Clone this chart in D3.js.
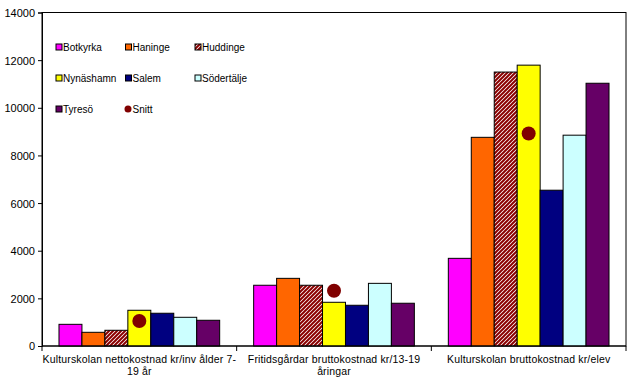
<!DOCTYPE html>
<html><head><meta charset="utf-8">
<script src="https://cdn.jsdelivr.net/npm/d3@7"></script>
<style>body{margin:0;background:#fff}svg{display:block}text{font-family:"Liberation Sans",Arial,sans-serif;font-size:10px;fill:#000}</style>
</head><body><svg id="c" width="634" height="390"></svg>
<script>
const categories = [["Kulturskolan nettokostnad kr/inv ålder 7-","19 år"],["Fritidsgårdar bruttokostnad kr/13-19","åringar"],["Kulturskolan bruttokostnad kr/elev"]];
const seriesNames = ["Botkyrka","Haninge","Huddinge","Nynäshamn","Salem","Södertälje","Tyresö"];
const botkyrka = [910, 2550, 3680];
const haninge = [575, 2840, 8760];
const huddinge = [660, 2550, 11500];
const nynashamn = [1500, 1835, 11790];
const salem = [1375, 1710, 6540];
const sodertalje = [1205, 2630, 8850];
const tyreso = [1080, 1795, 11030];
const snitt = [1050, 2320, 8920];
const yTicks = [0,2000,4000,6000,8000,10000,12000,14000];
const values = [botkyrka,haninge,huddinge,nynashamn,salem,sodertalje,tyreso];
const colors = ["#FF00FF","#FF6600","url(#hatch)","#FFFF00","#000080","#CCFFFF","#660066"];

const svg = d3.select("#c");
const defs = svg.append("defs");
const pat = defs.append("pattern").attr("id","hatch").attr("patternUnits","userSpaceOnUse").attr("width",4).attr("height",4);
pat.append("rect").attr("width",4).attr("height",4).attr("fill","#fff");
pat.append("path").attr("d","M-1,1 l2,-2 M0,4 l4,-4 M3,5 l2,-2").attr("stroke","#8B0000").attr("stroke-width",2);

const L=42, R=626, T=12.5, B=346;
const x0 = d3.scaleBand().domain(d3.range(categories.length)).range([L,R]).paddingInner(0).paddingOuter(0);
const x1 = d3.scaleBand().domain(d3.range(seriesNames.length)).range([0,x0.bandwidth()]).paddingInner(0).paddingOuter(0.74);
const y = d3.scaleLinear().domain([0,14000]).range([B,T]);

// plot border
svg.append("rect").attr("x",L).attr("y",T).attr("width",R-L).attr("height",B-T).attr("fill","none").attr("stroke","#000").attr("stroke-width",1);

// bars
values.forEach((vals,si)=>{
  svg.append("g").selectAll("rect").data(vals).join("rect")
    .attr("x",(d,ci)=>x0(ci)+x1(si)).attr("y",d=>y(d))
    .attr("width",x1.bandwidth()).attr("height",d=>B-y(d))
    .attr("fill",colors[si]).attr("stroke","#000").attr("stroke-width",1);
});
// snitt
svg.append("g").selectAll("circle").data(snitt).join("circle")
  .attr("cx",(d,ci)=>x0(ci)+x1(3)+x1.bandwidth()/2).attr("cy",d=>y(d)).attr("r",7).attr("fill","#800000");

// y axis
const ya = svg.append("g").attr("transform",`translate(${L},0)`).call(d3.axisLeft(y).tickValues(yTicks).tickSize(4).tickPadding(3).tickFormat(d3.format("d")));
ya.select(".domain").attr("stroke","#000");
ya.selectAll("text").style("font-size","11px").style("font-family","Liberation Sans, Arial").attr("dy","0.36em");
// x axis
const xa = svg.append("g").attr("transform",`translate(0,${B})`);
xa.append("line").attr("x1",L).attr("x2",R).attr("stroke","#000");
xa.selectAll(".tk").data(d3.range(categories.length+1)).join("line")
  .attr("x1",i=>L+i*x0.bandwidth()).attr("x2",i=>L+i*x0.bandwidth()).attr("y1",0).attr("y2",5).attr("stroke","#000");
categories.forEach((lines,ci)=>{
  const t = xa.append("text").attr("text-anchor","middle").attr("x",x0(ci)+x0.bandwidth()/2).attr("y",17)
    .style("font-size","10.5px").style("letter-spacing","0.15px");
  lines.forEach((ln,k)=>t.append("tspan").attr("x",x0(ci)+x0.bandwidth()/2).attr("dy",k?12:0).text(ln));
});

// legend
const legItems = seriesNames.map((n,i)=>({name:n,color:colors[i]})).concat([{name:"Snitt",dot:true}]);
const lg = svg.append("g");
legItems.forEach((it,i)=>{
  const col=i%3,row=Math.floor(i/3);
  const gx=56+col*69.5, gy=47+row*31;
  if(it.dot) lg.append("circle").attr("cx",gx+2.5).attr("cy",gy).attr("r",3.5).attr("fill","#800000");
  else lg.append("rect").attr("x",gx).attr("y",gy-3).attr("width",6).attr("height",6).attr("fill",it.color).attr("stroke","#000").attr("stroke-width",1);
  lg.append("text").attr("x",gx+7).attr("y",gy+3.5).text(it.name);
});
</script></body></html>
